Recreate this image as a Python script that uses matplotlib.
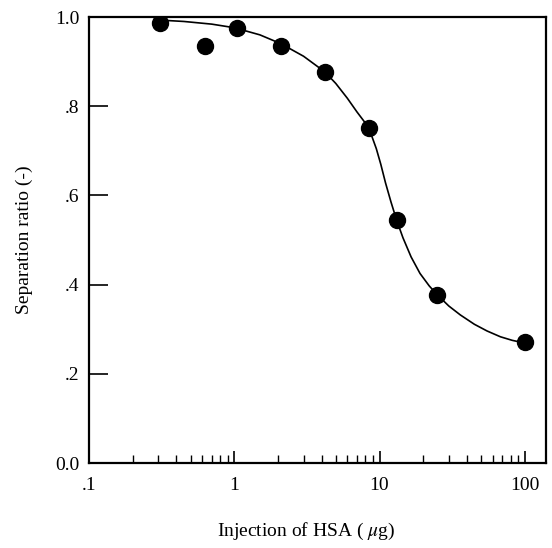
import matplotlib
matplotlib.use("Agg")
import matplotlib.pyplot as plt
from matplotlib.ticker import FixedLocator, FixedFormatter, LogLocator, NullFormatter

# measured points
dose = [0.31, 0.63, 1.05, 2.1, 4.2, 8.4, 13.1, 25, 100]
ratio = [0.987, 0.935, 0.975, 0.935, 0.877, 0.751, 0.545, 0.377, 0.271]

# fitted curve
curve_x = [0.31, 0.45, 0.7, 1.0, 1.5, 2.1, 3.0, 4.2, 5.0, 6.0, 7.0, 8.0, 8.8, 9.5, 10.2,
           11.0, 12.0, 13.1, 14.5, 16.5, 19, 22, 25, 30, 36, 45, 55, 68, 82, 100]
curve_y = [0.993, 0.99, 0.984, 0.976, 0.96, 0.94, 0.912, 0.877, 0.851, 0.818, 0.787, 0.762,
           0.735, 0.705, 0.67, 0.628, 0.585, 0.545, 0.505, 0.462, 0.425, 0.397, 0.377,
           0.352, 0.332, 0.311, 0.296, 0.283, 0.275, 0.269]

yticks = [0.0, 0.2, 0.4, 0.6, 0.8, 1.0]
ytick_labels = ["0.0", ".2", ".4", ".6", ".8", "1.0"]
xticks = [0.1, 1, 10, 100]
xtick_labels = [".1", "1", "10", "100"]

plt.rcParams['font.family'] = ['Liberation Serif', 'DejaVu Serif']
plt.rcParams['mathtext.fontset'] = 'stix'

fig = plt.figure(figsize=(5.52, 5.48), dpi=100)
ax = fig.add_axes([89/552, 85/548, 457/552, 446/548])
ax.set_xscale('log')
ax.set_xlim(0.1, 140)
ax.set_ylim(0.0, 1.0)

ax.plot(curve_x, curve_y, color='black', lw=1.2, zorder=2, solid_joinstyle='round')
ax.plot(dose, ratio, 'o', color='black', ms=11.5, zorder=3)

ax.xaxis.set_major_locator(FixedLocator(xticks))
ax.xaxis.set_major_formatter(FixedFormatter(xtick_labels))
ax.xaxis.set_minor_locator(LogLocator(base=10, subs=[2, 3, 4, 5, 6, 7, 8, 9]))
ax.xaxis.set_minor_formatter(NullFormatter())
ax.yaxis.set_major_locator(FixedLocator(yticks))
ax.yaxis.set_major_formatter(FixedFormatter(ytick_labels))

ax.tick_params(axis='x', which='major', direction='in', length=9, width=1.2,
               labelsize=14, pad=10)
ax.tick_params(axis='x', which='minor', direction='in', length=6, width=1.0)
ax.tick_params(axis='y', which='major', direction='in', length=14, width=1.2,
               labelsize=14, pad=7)
for s in ax.spines.values():
    s.set_linewidth(1.6)

ax.set_xlabel(r"Injection of HSA ( $\mu$g)", fontsize=14)
ax.xaxis.set_label_coords((306 - 89) / 457, -(531 - 463) / 446)
ax.xaxis.label.set_va('center')
ax.set_ylabel("Separation ratio (-)", fontsize=14, labelpad=16)

fig.savefig("out.png", dpi=100)
